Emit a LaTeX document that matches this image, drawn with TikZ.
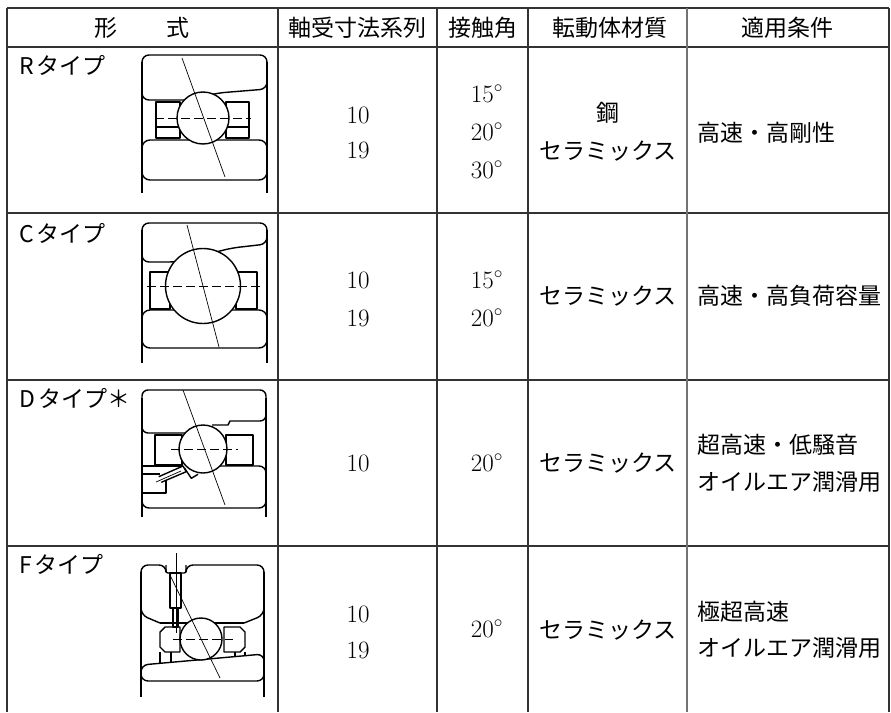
\documentclass[tikz,border=0pt]{standalone}
\usepackage{fontspec}
\newfontfamily\jp{Noto Sans CJK JP}
\begin{document}
\begin{tikzpicture}[x=1pt,y=-1pt]
\tikzset{
  gridl/.style={draw=black!80, line width=1.3pt},
  jtxt/.style={inner sep=0pt, font=\jp\fontsize{23}{23}\selectfont},
  num/.style={inner sep=0pt, anchor=base, font=\fontsize{25}{25}\selectfont},
  brg/.style={line width=1.4pt, draw=black, line join=round},
  thinl/.style={line width=0.7pt, draw=black},
  ctr/.style={line width=0.8pt, draw=black, dash pattern=on 9pt off 4pt},
}
\useasboundingbox (0,0) rectangle (891,712);
\fill[white] (0,0) rectangle (891,712);
% ---------- table grid ----------
\draw[gridl] (7,8) -- (889,8);
\foreach \yy in {47,213,380,546} { \draw[gridl] (7,\yy) -- (889,\yy); }
\foreach \xx in {7,278,437,528,889} { \draw[gridl] (\xx,8) -- (\xx,712); }
\draw[gridl, draw=black!55] (687,8) -- (687,712);
% ---------- header ----------
\node[jtxt] (h1) at (142,28) {形\hspace{50pt}式};
\node[jtxt] (h2) at (357,28) {軸受寸法系列};
\node[jtxt] (h3) at (483,28) {接触角};
\node[jtxt] (h4) at (610,28) {転動体材質};
\node[jtxt] (h5) at (787,28) {適用条件};
% ---------- row labels ----------
\node[jtxt, anchor=west] (r1) at (19,65) {R\hspace{3pt}タイプ};
\node[jtxt, anchor=west] (r2) at (19,233) {C\hspace{3pt}タイプ};
\node[jtxt, anchor=west] (r3) at (19,398) {D\hspace{3pt}タイプ＊};
\node[jtxt, anchor=west] (r4) at (19,564) {F\hspace{3pt}タイプ};
% ---------- series ----------
\node[num] (s1a) at (358,123) {10};
\node[num] (s1b) at (358,158) {19};
\node[num] (s2a) at (358,288) {10};
\node[num] (s2b) at (358,326) {19};
\node[num] (s3a) at (358,471) {10};
\node[num] (s4a) at (358,622) {10};
\node[num] (s4b) at (358,658) {19};
% ---------- contact angles ----------
\node[num] (a1a) at (487,102) {15$^{\circ}$};
\node[num] (a1b) at (487,140) {20$^{\circ}$};
\node[num] (a1c) at (487,178) {30$^{\circ}$};
\node[num] (a2a) at (487,288) {15$^{\circ}$};
\node[num] (a2b) at (487,326) {20$^{\circ}$};
\node[num] (a3a) at (487,471) {20$^{\circ}$};
\node[num] (a4a) at (487,637) {20$^{\circ}$};
% ---------- materials ----------
\node[jtxt] (m1a) at (608,112.5) {鋼};
\node[jtxt] (m1b) at (608,151) {セラミックス};
\node[jtxt] (m2) at (608,296) {セラミックス};
\node[jtxt] (m3) at (608,463) {セラミックス};
\node[jtxt] (m4) at (608,630) {セラミックス};
% ---------- conditions ----------
\node[jtxt, anchor=west] (c1) at (697,133) {高速・高剛性};
\node[jtxt, anchor=west] (c2) at (697,296) {高速・高負荷容量};
\node[jtxt, anchor=west] (c3a) at (697,445) {超高速・低騒音};
\node[jtxt, anchor=west] (c3b) at (697,482) {オイルエア潤滑用};
\node[jtxt, anchor=west] (c4a) at (697,612) {極超高速};
\node[jtxt, anchor=west] (c4b) at (697,648) {オイルエア潤滑用};
% ========== R type bearing ==========
\draw[brg] (142,62) -- (142,193);
\draw[brg] (267,62) -- (267,193);
\draw[brg, rounded corners=7] (142,100) -- (142,55) -- (267,55) -- (267,89) -- (218,93) -- (190,100) -- cycle;
\draw[brg, rounded corners=8] (142,140) rectangle (267,180);
\draw[brg] (156,102) rectangle (180,138);
\draw[brg] (156,127) -- (180,127);
\draw[brg] (226,102) rectangle (249,138);
\draw[brg] (226,127) -- (249,127);
\draw[brg, fill=white] (203,118) circle[radius=26];
\draw[ctr] (155,118) -- (251,118);
\draw[thinl] (182,58) -- (225,177);
% ========== C type bearing ==========
\draw[brg] (142,230) -- (142,363);
\draw[brg] (267,230) -- (267,363);
\draw[brg, rounded corners=7] (142,262) -- (142,223) -- (267,223) -- (267,244) -- (232,248) -- (176,262) -- cycle;
\draw[brg, rounded corners=8] (142,310) rectangle (267,348);
\draw[brg] (150,272) rectangle (170,309);
\draw[brg] (236,272) rectangle (257,309);
\draw[brg, fill=white] (203,286) circle[radius=37.5];
\draw[ctr] (147,286) -- (260,286);
\draw[thinl] (187,225) -- (219,347);
% ========== D type bearing ==========
\draw[brg] (142,398) -- (142,517);
\draw[brg] (266,398) -- (266,517);
\draw[brg, rounded corners=6] (200,433) -- (142,433) -- (142,390) -- (266,390) -- (266,421) -- (245,421);
\draw[brg] (245,421) -- (230,421) -- (228,425) -- (212,425);
\draw[brg] (155,435) rectangle (182,465);
\draw[brg] (226,435) rectangle (253,465);
\draw[brg] (142,466) -- (183,466);
\draw[brg] (142,474) -- (160,474);
\draw[brg] (142,493) -- (166,493) -- (166,479);
\draw[brg, rounded corners=7] (142,493) -- (142,508) -- (266,508) -- (266,466) -- (195,466);
\draw[brg, fill=white] (203,449) circle[radius=24];
\draw[brg, fill=white] (158.7,476.7) -- (183,466) -- (186.3,471.7) -- (161.3,482.3);
\draw[brg, fill=white] (184.7,468.3) -- (191.3,478.3) -- (198,474.3);
\draw[thinl] (156,482) -- (181,471);
\draw[ctr] (171,449) -- (238,449);
\draw[thinl] (183,390) -- (225,505);
% ========== F type bearing ==========
\draw[brg] (141,572) -- (141,697);
\draw[brg] (264,572) -- (264,697);
\draw[brg, rounded corners=7] (160,623) -- (141,615) -- (141,565) -- (166,565) -- (166,569);
\draw[brg, rounded corners=2] (166,565) -- (166,573) -- (186,573) -- (186,565);
\draw[brg, rounded corners=7] (186,569) -- (186,565) -- (264,565) -- (264,615) -- (244,623);
\draw[brg] (244,623) -- (160,623);
\draw[brg] (170,573) rectangle (181,608);
\draw[brg] (173,608) rectangle (178,627);
\draw[brg] (165,627) -- (180,627) -- (180,652) -- (165,652) -- (160,647) -- (160,632) -- cycle;
\draw[brg] (224,627) -- (240,627) -- (245,632) -- (245,647) -- (240,652) -- (224,652) -- cycle;
\draw[brg] (160,652) -- (160,663);
\draw[brg] (171,652) -- (171,662);
\draw[brg] (235,652) -- (235,657);
\draw[brg] (245,652) -- (245,656);
\draw[brg, rounded corners=7] (141,665) -- (264,654) -- (264,681) -- (141,681) -- cycle;
\draw[brg, fill=white] (201,639) circle[radius=21];
\draw[thinl] (176,553) -- (176,633);
\draw[ctr] (173,639) -- (233,639);
\draw[thinl] (170,575) -- (220,678);
\end{tikzpicture}
\end{document}
